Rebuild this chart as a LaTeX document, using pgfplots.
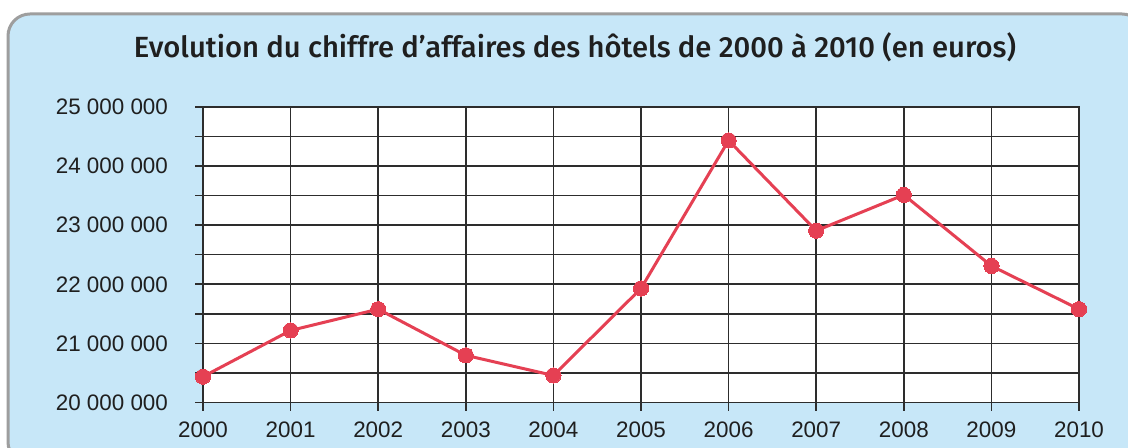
\documentclass[border=0pt]{standalone}
\usepackage{fontspec}
\setmainfont{Liberation Sans}
\newfontfamily\titlefont{Fira Sans}[UprightFont=* Medium]
\usepackage{pgfplots}
\pgfplotsset{compat=1.18}
\definecolor{bgblue}{RGB}{199,231,248}
\definecolor{linered}{RGB}{229,64,83}
\definecolor{gridgray}{RGB}{45,45,45}
\begin{document}
\begin{tikzpicture}
\path[use as bounding box] (0,0) rectangle (564pt,224pt);
\fill[white] (0,0) rectangle (564pt,224pt);
\draw[fill=bgblue, draw=black!38, line width=1.5pt, rounded corners=11pt] (4pt,-8pt) rectangle (572pt,217pt);
\node[anchor=base, inner sep=0pt, font=\titlefont\fontsize{14.6}{17}\selectfont, text=black!88] at (287.5pt,195pt) {Evolution du chiffre d’affaires des hôtels de 2000 à 2010 (en euros)};
\begin{axis}[
  at={(101.5pt,22.65pt)}, anchor=south west,
  scale only axis, width=438pt, height=148pt,
  xmin=2000, xmax=2010, ymin=20000000, ymax=25000000,
  axis background/.style={fill=white},
  xtick={2000,2001,2002,2003,2004,2005,2006,2007,2008,2009,2010},
  xticklabels={2000,2001,2002,2003,2004,2005,2006,2007,2008,2009,2010},
  ytick={20000000,20500000,21000000,21500000,22000000,22500000,23000000,23500000,24000000,24500000,25000000},
  yticklabels={20 000 000,,21 000 000,,22 000 000,,23 000 000,,24 000 000,,25 000 000},
  tick align=outside, tick pos=left,
  major tick length=4pt,
  tick style={gridgray, line width=0.8pt},
  grid=major,
  major grid style={gridgray, line width=0.8pt},
  axis line style={gridgray, line width=0.8pt},
  ticklabel style={font=\fontsize{11.2}{13}\selectfont, text=black!88},
  yticklabel style={xshift=-10pt},
  xticklabel style={yshift=-2pt},
  scaled y ticks=false,
  clip=false,
]
\addplot[linered, line width=1.5pt, mark=*, mark size=3.8pt, mark options={fill=linered, draw=linered, line width=0pt}] coordinates {
  (2000,20440000) (2001,21220000) (2002,21580000) (2003,20800000) (2004,20460000)
  (2005,21930000) (2006,24430000) (2007,22905000) (2008,23510000) (2009,22310000) (2010,21580000)
};
\end{axis}
\end{tikzpicture}
\end{document}
